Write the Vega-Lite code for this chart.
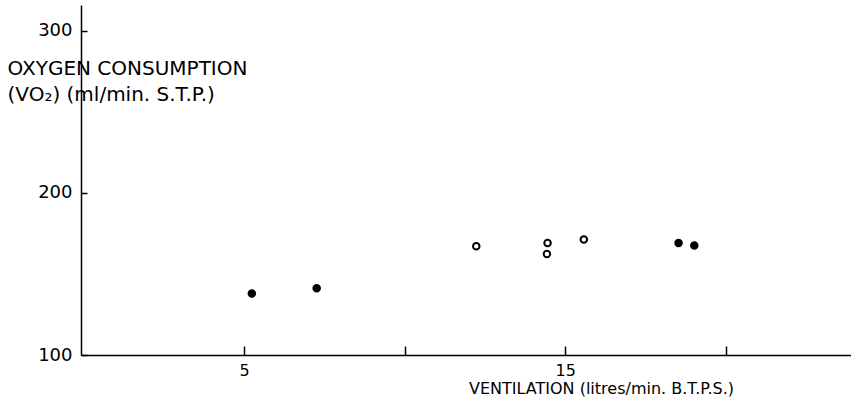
{
  "$schema": "https://vega.github.io/schema/vega-lite/v6.json",
  "width": 770,
  "height": 350,
  "autosize": "none",
  "padding": {"left": 81, "top": 5, "right": 0, "bottom": 55},
  "background": "white",
  "config": {
    "view": {"stroke": null},
    "font": "DejaVu Sans",
    "axis": {"grid": false, "domainColor": "black", "domainWidth": 1.5, "tickColor": "black", "tickWidth": 1.5, "labelColor": "black", "titleColor": "black", "labelFont": "DejaVu Sans", "titleFont": "DejaVu Sans", "titleFontWeight": "normal"}
  },
  "data": {
    "values": [
      {"vent": 5.24, "vo2": 137.9, "kind": "filled"},
      {"vent": 7.26, "vo2": 141.2, "kind": "filled"},
      {"vent": 12.23, "vo2": 167.1, "kind": "open"},
      {"vent": 14.45, "vo2": 169.1, "kind": "open"},
      {"vent": 14.43, "vo2": 162.3, "kind": "open"},
      {"vent": 15.58, "vo2": 171.2, "kind": "open"},
      {"vent": 18.53, "vo2": 169.1, "kind": "filled"},
      {"vent": 19.02, "vo2": 167.5, "kind": "filled"}
    ]
  },
  "mark": {"type": "point", "shape": "circle", "size": 42, "strokeWidth": 2, "stroke": "black", "opacity": 1},
  "encoding": {
    "x": {
      "field": "vent", "type": "quantitative",
      "scale": {"domain": [-0.08, 23.9], "nice": false, "zero": false},
      "axis": {
        "values": [5, 10, 15, 20],
        "labelExpr": "datum.value == 5 || datum.value == 15 ? datum.label : ''",
        "tickSize": -9,
        "labelPadding": 16,
        "labelFontSize": 16,
        "title": "VENTILATION (litres/min. B.T.P.S.)",
        "titleFontSize": 16,
        "titleX": 520,
        "titleY": 38,
        "titleAlign": "center",
        "titleBaseline": "alphabetic"
      }
    },
    "y": {
      "field": "vo2", "type": "quantitative",
      "scale": {"domain": [100, 315.8], "nice": false, "zero": false},
      "axis": {
        "values": [100, 200, 300],
        "tickSize": -6,
        "labelPadding": 15,
        "labelFontSize": 18,
        "title": ["OXYGEN CONSUMPTION", "(VO₂) (ml/min. S.T.P.)"],
        "titleFontSize": 20,
        "titleLineHeight": 26,
        "titleAngle": 0,
        "titleAlign": "left",
        "titleBaseline": "alphabetic",
        "titleX": -74,
        "titleY": 69
      }
    },
    "fill": {
      "field": "kind", "type": "nominal",
      "scale": {"domain": ["filled", "open"], "range": ["black", "white"]},
      "legend": null
    }
  }
}
